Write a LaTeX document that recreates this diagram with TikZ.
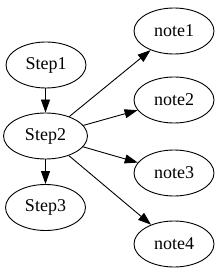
\documentclass[tikz,border=0pt]{standalone}
\usepackage{fontspec}
\setmainfont{Liberation Serif}
\usetikzlibrary{positioning, arrows.meta, shapes}

\begin{document}
\begin{tikzpicture}[
    x=1pt, y=-1pt,
    oval/.style={
      draw, ellipse, line width=0.9pt, minimum width=80pt, minimum height=46pt,
      inner sep=0pt, font=\fontsize{18}{20}\selectfont
    },
    arrow/.style={-{Triangle[length=13pt, width=9pt]}, line width=0.9pt}
]
\useasboundingbox (0,0) rectangle (222,275);

% Steps
\node[oval] (step1) at (46,65) {Step1};
\node[oval, minimum width=84pt] (step2) at (45.5,136) {Step2};
\node[oval] (step3) at (45.5,207.5) {Step3};

% Notes
\node[oval] (note1) at (174,31) {note1};
\node[oval] (note2) at (174,100) {note2};
\node[oval] (note3) at (174,173) {note3};
\node[oval] (note4) at (174,244) {note4};

% Arrows
\draw[arrow] (step1.south -| step2) -- (step2);
\draw[arrow] (step2) -- (step3);
\draw[arrow] (step2) -- (note1);
\draw[arrow] (step2) -- (note2);
\draw[arrow] (step2) -- (note3);
\draw[arrow] (step2) -- (note4);

\end{tikzpicture}
\end{document}
